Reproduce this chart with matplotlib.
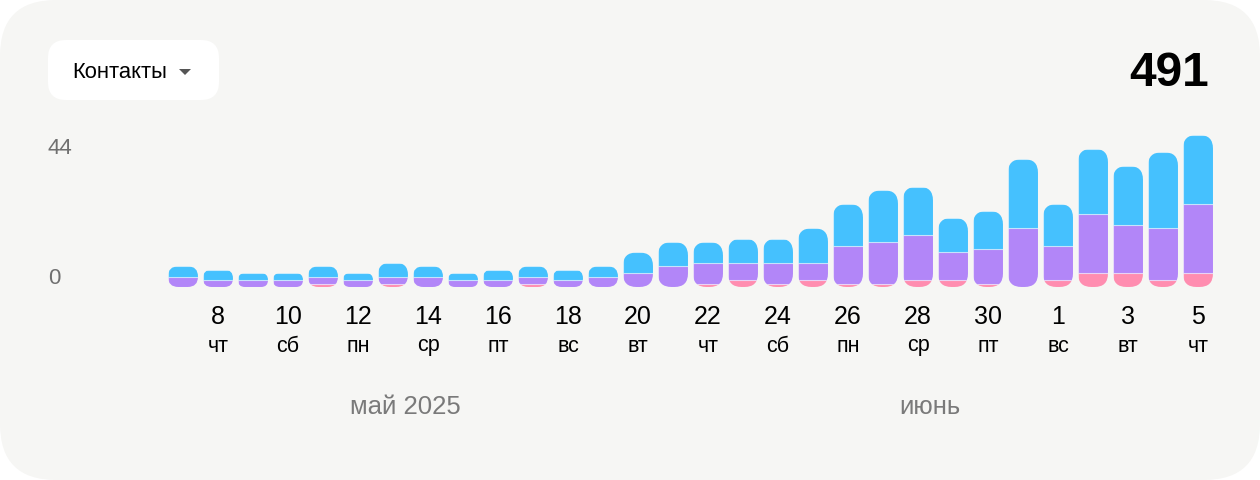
import matplotlib
matplotlib.use("Agg")
import matplotlib.pyplot as plt
import numpy as np
from matplotlib.patches import FancyBboxPatch, Polygon
from matplotlib.transforms import IdentityTransform, blended_transform_factory

# ---------------- data ----------------
day_labels = ["7", "8", "9", "10", "11", "12", "13", "14", "15", "16", "17", "18", "19", "20",
              "21", "22", "23", "24", "25", "26", "27", "28", "29", "30", "31",
              "1", "2", "3", "4", "5"]
weekday_labels = ["ср", "чт", "пт", "сб", "вс", "пн", "вт", "ср", "чт", "пт", "сб", "вс", "пн", "вт",
                  "ср", "чт", "пт", "сб", "вс", "пн", "вт", "ср", "чт", "пт", "сб",
                  "вс", "пн", "вт", "ср", "чт"]
month_labels = ["май 2025", "июнь"]
blue = [3, 3, 2, 2, 3, 2, 4, 3, 2, 3, 3, 3, 3, 6, 7, 6, 7, 7, 10, 12, 15, 14, 10, 11, 20, 12, 19, 17, 22, 20]
purple = [3, 2, 2, 2, 2, 2, 2, 3, 2, 2, 2, 2, 3, 4, 6, 6, 5, 6, 5, 11, 12, 13, 8, 10, 17, 10, 17, 14, 15, 20]
pink = [0, 0, 0, 0, 1, 0, 1, 0, 0, 0, 1, 0, 0, 0, 0, 1, 2, 1, 2, 1, 1, 2, 2, 1, 0, 2, 4, 4, 2, 4]
dropdown_label = "Контакты"

BLUE = "#45C1FE"
PURPLE = "#B286F8"
PINK = "#FF8DB0"
CARD = "#F6F6F4"

plt.rcParams['font.family'] = ['Liberation Sans', 'DejaVu Sans']

W, H = 1260, 480
fig = plt.figure(figsize=(W / 100, H / 100), dpi=100)
fig.patch.set_facecolor("white")

bg = fig.add_axes([0, 0, 1, 1])
bg.set_xlim(0, W)
bg.set_ylim(H, 0)
bg.axis("off")

bg.add_patch(FancyBboxPatch((0, 0), W, H, boxstyle="round,pad=0,rounding_size=56",
                            fc=CARD, ec="none"))
# dropdown button
bg.add_patch(FancyBboxPatch((48, 40), 171, 60, boxstyle="round,pad=0,rounding_size=18",
                            fc="white", ec="none"))
bg.text(72, 72, dropdown_label, ha="left", va="center", fontsize=15.8, color="black")
bg.add_patch(Polygon([(179, 69), (191, 69), (185, 75)], closed=True, fc="#555555", ec="none"))

total = int(np.sum(blue) + np.sum(purple) + np.sum(pink))
bg.text(1209, 73.5, str(total), ha="right", va="center", fontsize=34.5, weight="bold", color="black")

# ---------------- chart ----------------
b = np.array(blue)
p = np.array(purple)
k = np.array(pink)
tot = b + p + k
ymax = int(tot.max())
n = len(b)
x = np.arange(n)

px_per_unit = 152 / ymax
ax_h = 167
ax = fig.add_axes([148 / W, (H - 287) / H, 1085 / W, ax_h / H])
ax.set_xlim(-1, n)
ax.set_ylim(0, ax_h / px_per_unit)
ax.axis("off")

bw = 30 / 35
ec = (1, 1, 1, 0.45)
c1 = ax.bar(x, k, width=bw, color=PINK, edgecolor=ec, linewidth=0.8)
c2 = ax.bar(x, p, bottom=k, width=bw, color=PURPLE, edgecolor=ec, linewidth=0.8)
c3 = ax.bar(x, b, bottom=k + p, width=bw, color=BLUE, edgecolor=ec, linewidth=0.8)

fig.canvas.draw()
for i in range(n):
    (x0, y0) = ax.transData.transform((i - bw / 2, 0))
    (x1, y1) = ax.transData.transform((i + bw / 2, tot[i]))
    hgt = y1 - y0
    r = min(13.5, hgt / 2)
    clip = FancyBboxPatch((x0, y0), x1 - x0, hgt,
                          boxstyle=f"round,pad=0,rounding_size={r}",
                          transform=IdentityTransform())
    for cont in (c1, c2, c3):
        rect = cont.patches[i]
        if rect.get_height() == 0:
            rect.set_visible(False)
        rect.set_clip_path(clip)

# y labels
bg.text(48, 148, str(ymax), ha="left", va="center", fontsize=16, color="#707070")
bg.text(48, 279, "0", ha="left", va="center", fontsize=16, color="#707070")

# x labels
tr = blended_transform_factory(ax.transData, bg.transData)
for i in range(1, n, 2):
    ax.text(i, 317, day_labels[i], transform=tr, ha="center", va="center",
            fontsize=18, color="black")
    ax.text(i, 346, weekday_labels[i], transform=tr, ha="center", va="center",
            fontsize=15.5, color="black")

ax.text(6.35, 407, month_labels[0], transform=tr, ha="center", va="center",
        fontsize=18.5, color="#7A7A7A")
ax.text(21.35, 407, month_labels[1], transform=tr, ha="center", va="center",
        fontsize=18.5, color="#7A7A7A")

fig.savefig("out.png", dpi=100, facecolor="white")
